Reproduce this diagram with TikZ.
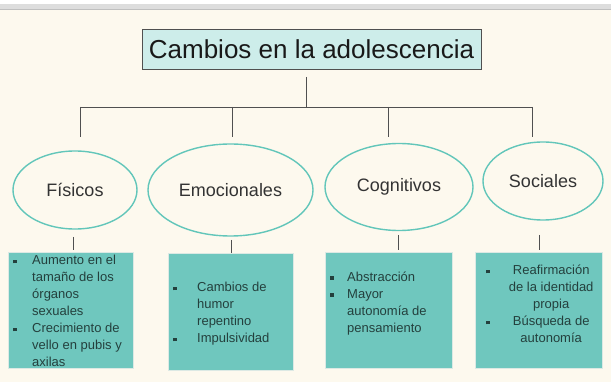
\documentclass[tikz,border=0pt]{standalone}
\usepackage{fontspec}
\setmainfont{Liberation Sans}
\usepackage{array}
\usetikzlibrary{shapes.geometric}
\definecolor{bgcream}{HTML}{FDF9EE}
\definecolor{topgrey}{HTML}{DDDDDD}
\definecolor{titlefill}{HTML}{CDEDEA}
\definecolor{linegrey}{HTML}{505050}
\definecolor{ellteal}{HTML}{62C6BA}
\definecolor{boxteal}{HTML}{6FC7BE}
\definecolor{boxedge}{HTML}{DCE9E4}
\definecolor{boxtext}{HTML}{24403D}
\definecolor{elltext}{HTML}{333333}
\newcommand{\bsq}{\rule[1.6pt]{3.8pt}{3.8pt}}
\newcolumntype{L}[1]{>{\raggedright\arraybackslash}p{#1}}
\newcolumntype{C}[1]{>{\centering\arraybackslash}p{#1}}
\tikzset{
  conn/.style={draw=linegrey, line width=0.9pt},
  titlebox/.style={draw=linegrey, line width=0.8pt, fill=titlefill, minimum width=339pt, minimum height=40pt, inner sep=0pt, font=\fontsize{26}{30}\selectfont, text=black!90},
  cat/.style={ellipse, draw=ellteal, line width=1.4pt, fill=bgcream, inner sep=0pt, font=\fontsize{18}{22}\selectfont, text=elltext},
  tealbox/.style={draw=boxedge, line width=1.2pt, fill=boxteal},
  boxtxt/.style={anchor=base west, inner sep=0pt, text=boxtext, font=\fontsize{13}{17}\selectfont}
}
\begin{document}
\begin{tikzpicture}[x=1pt,y=-1pt]
\useasboundingbox (0,0) rectangle (611,382);
\fill[bgcream] (0,0) rectangle (611,382);
\fill[white] (0,0) rectangle (611,4.5);
\fill[topgrey] (0,4.5) rectangle (611,9.5);
\draw[black!25, line width=0.6pt] (0,9.6) -- (611,9.6);

% title
\node[titlebox] (title) at (311.5,49) {Cambios en la adolescencia};

% categories
\node[cat, minimum width=124pt, minimum height=78pt] (fis) at (75,190) {Físicos};
\node[cat, minimum width=165pt, minimum height=92pt] (emo) at (230.5,190) {Emocionales};
\node[cat, minimum width=148pt, minimum height=87pt] (cog) at (399,187) {Cognitivos};
\node[cat, minimum width=120pt, minimum height=78pt] (soc) at (543,181) {Sociales};

% tree connectors
\coordinate (stemtop) at (306,77);
\coordinate (stembot) at (306,107);
\coordinate (hl) at (80,107);
\coordinate (hr) at (532,107);
\coordinate (d1) at (80,137);
\coordinate (h2) at (232,107);
\coordinate (d2) at (232,137);
\coordinate (h3) at (388.5,107);
\coordinate (d3) at (388.5,137);
\coordinate (d4) at (532,137);
\draw[conn] (stemtop) -- (stembot);
\draw[conn] (hl) -- (hr);
\draw[conn] (hl) -- (d1);
\draw[conn] (h2) -- (d2);
\draw[conn] (h3) -- (d3);
\draw[conn] (hr) -- (d4);

% boxes
\node[tealbox, anchor=north west, minimum width=125pt, minimum height=116pt, inner sep=0pt] (bfis) at (8,252) {};
\node[tealbox, anchor=north west, minimum width=125pt, minimum height=117pt, inner sep=0pt] (bemo) at (168,253) {};
\node[tealbox, anchor=north west, minimum width=127pt, minimum height=116pt, inner sep=0pt] (bcog) at (325,252) {};
\node[tealbox, anchor=north west, minimum width=127pt, minimum height=116pt, inner sep=0pt] (bsoc) at (475,252) {};

% short connectors to boxes
\coordinate (f1) at (73,237); \coordinate (f2) at (73,250);
\coordinate (e1) at (231,240); \coordinate (e2) at (231,253);
\coordinate (c1) at (398,235); \coordinate (c2) at (398,250);
\coordinate (s1) at (539,235); \coordinate (s2) at (539,250);
\draw[conn] (f1) -- (f2);
\draw[conn] (e1) -- (e2);
\draw[conn] (c1) -- (c2);
\draw[conn] (s1) -- (s2);

% box texts
\node[boxtxt] (tfis) at (13,265) {\begin{tabular}[t]{@{}p{19pt}@{}L{100pt}@{}}
\bsq & Aumento en el\\
 & tamaño de los\\
 & órganos\\
 & sexuales\\
\bsq & Crecimiento de\\
 & vello en pubis y\\
 & axilas
\end{tabular}};
\node[boxtxt] (temo) at (173,292) {\begin{tabular}[t]{@{}p{24pt}@{}L{95pt}@{}}
\bsq & Cambios de\\
 & humor\\
 & repentino\\
\bsq & Impulsividad
\end{tabular}};
\node[boxtxt] (tcog) at (330,281.5) {\begin{tabular}[t]{@{}p{17pt}@{}L{105pt}@{}}
\bsq & Abstracción\\
\bsq & Mayor\\
 & autonomía de\\
 & pensamiento
\end{tabular}};
\node[boxtxt] (tsoc) at (486,275) {\begin{tabular}[t]{@{}p{16pt}@{}C{98pt}@{}}
\bsq & Reafirmación\\
 & de la identidad\\
 & propia\\
\bsq & Búsqueda de\\
 & autonomía
\end{tabular}};
\end{tikzpicture}
\end{document}
